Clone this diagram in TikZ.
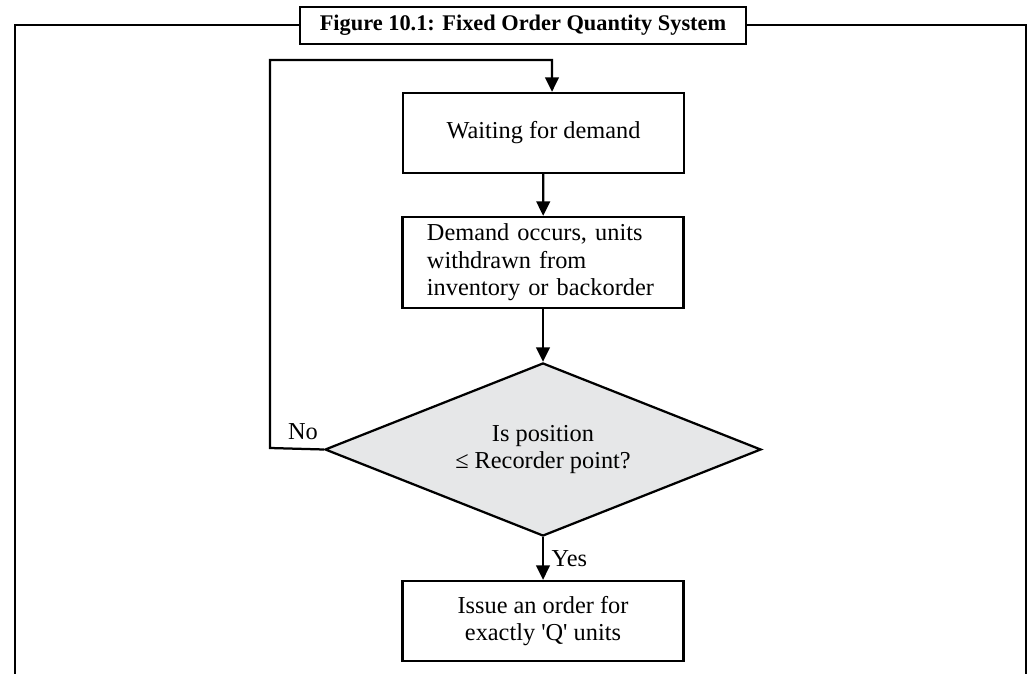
\documentclass[tikz,border=0pt]{standalone}
\usepackage{fontspec}
\setmainfont{Liberation Serif}[Ligatures=TeXOff]
\usetikzlibrary{shapes.geometric,arrows.meta}
\definecolor{decgray}{HTML}{E6E7E8}

\begin{document}
\begin{tikzpicture}[
		x = 0.025cm, y = -0.025cm,
		frm/.style  = {line width=1.7pt},
		box/.style  = {draw, line width=1.6pt, minimum width=7.025cm, minimum height=2cm,
		               font=\fontsize{17.3}{19.5}\selectfont, align=center},
		dec/.style  = {diamond, draw, line width=1.6pt, fill=decgray, aspect=2.52, minimum width=10.9cm,
		               minimum height=4.325cm, inner sep=0pt, font=\fontsize{17.3}{19.5}\selectfont, align=center},
		ttl/.style  = {draw, fill=white, line width=1.7pt, minimum width=11.15cm, minimum height=0.925cm,
		               font=\fontsize{15.9}{18}\selectfont\bfseries},
		lbl/.style  = {font=\fontsize{17.3}{19.5}\selectfont},
		arr/.style  = {line width=1.6pt, -{Triangle[length=0.36cm, width=0.34cm]}}
		]
		\useasboundingbox (0,0) rectangle (1031,674);
		
		% outer frame with title
		\coordinate (fl) at (15,25);
		\coordinate (fr) at (1026,25);
		\coordinate (bl) at (15,676);
		\coordinate (br) at (1026,676);
		\draw[frm] (bl) -- (fl) -- (523,25);
		\draw[frm] (br) -- (fr) -- (523,25);
		\node[ttl] (title) at (523,25.5) {Figure 10.1: Fixed Order Quantity System};
		
		% flow
		\node[box] (wait) at (543.5,133) {Waiting for demand};
		\node[box, minimum height=2.275cm, text width=5.8cm, align=left] (dem) at (543,262.5)
		     {Demand occurs, units\\ withdrawn from\\ inventory or backorder};
		\node[dec] (chk) at (543,449.5) {Is position\\ ≤ Recorder point?};
		\node[box] (iss) at (543,621) {Issue an order for\\ exactly 'Q' units};
		
		\draw[arr] (wait) -- (dem);
		\draw[arr] (dem) -- (chk);
		\draw[arr] (chk) -- (iss) node[lbl, midway, right, xshift=2pt] {Yes};
		
		% loop back
		\coordinate (lpA) at (270,448);
		\coordinate (lpB) at (270,60);
		\coordinate (lpC) at (552,60);
		\draw[arr] (chk.west) -- (lpA) -- (lpB) -- (lpC) -- (lpC |- wait.north);
		\node[lbl] (no) at (303,432) {No};
	\end{tikzpicture}
\end{document}
